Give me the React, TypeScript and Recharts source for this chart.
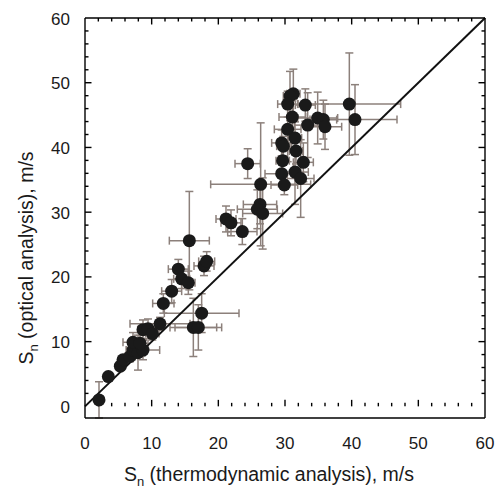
import { ScatterChart, Scatter, XAxis, YAxis, ErrorBar, ReferenceLine, Label } from "recharts";

// S_n from thermodynamic analysis (x) vs optical analysis (y), m/s
const thermo = [
  2.1, 3.5, 5.3, 5.7, 6.75, 7.2, 7.95, 8.7, 7.2, 8.25, 8.7, 9.45, 10.1, 11.25,
  11.75, 13.0, 14.0, 14.5, 15.5, 15.65, 17.85, 18.25, 16.25, 17.0, 17.5,
  21.15, 21.9, 23.6, 24.4, 26.35, 26.25, 25.85, 26.65,
  31.25, 30.75, 30.4, 33.05, 39.65, 31.1, 34.9, 35.75, 40.5, 33.4, 36.0, 30.4,
  31.5, 29.5, 29.75, 31.65, 29.65, 32.75, 31.5, 29.5, 32.35, 29.9,
];
const optical = [
  1.0, 4.6, 6.2, 7.2, 7.7, 8.7, 8.3, 8.7, 9.9, 9.75, 11.85, 12.0, 11.25, 12.75,
  15.9, 17.8, 21.2, 19.7, 19.1, 25.6, 21.7, 22.4, 12.2, 12.2, 14.4,
  28.95, 28.35, 27.0, 37.5, 34.3, 31.2, 30.45, 29.8,
  48.3, 47.95, 46.7, 46.55, 46.7, 44.7, 44.55, 44.3, 44.3, 43.45, 43.2, 42.8,
  41.45, 40.7, 40.2, 39.45, 37.95, 37.7, 36.2, 35.95, 35.2, 34.2,
];
const thermoErr = [
  0.4, 0, 0, 0.6, 0.8, 1.0, 1.0, 2.5, 1.5, 1.2, 0.8, 1.2, 1.0, 4.5,
  1.6, 1.5, 1.5, 1.2, 1.0, 3.0, 1.5, 1.2, 3.5, 3.5, 5.6,
  1.5, 1.5, 2.2, 1.9, 7.5, 2.5, 3.0, 3.0,
  1.0, 1.0, 1.5, 1.5, 7.7, 2.0, 3.0, 2.0, 6.3, 2.0, 2.5, 2.0,
  1.0, 1.5, 1.0, 1.0, 1.0, 1.5, 2.0, 2.5, 2.0, 2.0,
];
const opticalErr = [
  2.8, 0, 0, 0.6, 0.8, 1.2, 2.7, 1.5, 1.5, 1.2, 1.5, 1.5, 1.0, 1.0,
  1.5, 1.8, 1.5, 1.5, 1.8, 7.6, 1.5, 1.5, 4.5, 3.5, 3.0,
  2.0, 2.0, 2.0, 2.3, 9.5, 3.0, 3.0, 5.5,
  3.8, 3.8, 2.0, 2.5, 7.9, 2.5, 4.0, 3.0, 5.4, 5.0, 3.5, 5.0,
  2.5, 2.0, 1.5, 2.0, 2.0, 3.0, 5.0, 2.0, 6.0, 1.5,
];
const axisTicks = [0, 2, 4, 6, 8, 10, 12, 14, 16, 18, 20, 22, 24, 26, 28, 30, 32, 34, 36, 38, 40, 42, 44, 46, 48, 50, 52, 54, 56, 58, 60];

const data = thermo.map((x, i) => ({
  x,
  y: optical[i],
  xerr: thermoErr[i],
  yerr: opticalErr[i],
}));

const FONT = "'Liberation Sans', Arial, sans-serif";
const BAR = "#8c807b";
const AXIS = { stroke: "#000", strokeWidth: 1.4 };

const isMajor = (v: number) => v % 10 === 0;

// inward frame ticks on all four sides, placed through the axis scales
const innerTicks = axisTicks.filter((v) => v > 0 && v < 60);
const frameTicks = innerTicks.flatMap((v) => [
  { x: v, y: 0, side: "b", v },
  { x: v, y: 60, side: "t", v },
  { x: 0, y: v, side: "l", v },
  { x: 60, y: v, side: "r", v },
]);

function FrameTick({ cx, cy, payload }: any) {
  const len = isMajor(payload.v) ? 6.5 : 3.5;
  const d =
    payload.side === "b" ? `M${cx},${cy}v${-len}` :
    payload.side === "t" ? `M${cx},${cy}v${len}` :
    payload.side === "l" ? `M${cx},${cy}h${len}` :
    `M${cx},${cy}h${-len}`;
  return <path d={d} stroke="#000" strokeWidth={1.4} fill="none" />;
}

function BottomTick({ x, y, payload }: any) {
  if (!isMajor(payload.value)) return <g />;
  return (
    <text x={x} y={y + 31} textAnchor="middle" fontSize={17} fontFamily={FONT} fill="#1a1a1a">
      {payload.value}
    </text>
  );
}

function LeftTick({ x, y, payload }: any) {
  if (!isMajor(payload.value)) return <g />;
  return (
    <text x={x - 15} y={y + 6.5} textAnchor="end" fontSize={17} fontFamily={FONT} fill="#1a1a1a">
      {payload.value}
    </text>
  );
}

const Dot = (p: any) => <circle cx={p.cx} cy={p.cy} r={6.5} fill="#1a1a1a" />;

export default function App() {
  return (
    <div style={{ position: "absolute", left: 0, top: 0, background: "#fff" }}>
      <ScatterChart width={496} height={491} margin={{ top: 17, right: 10, bottom: 0, left: 0 }}>
        <XAxis
          xAxisId="b"
          dataKey="x"
          type="number"
          domain={[0, 60]}
          ticks={axisTicks}
          interval={0}
          height={73}
          tickSize={0}
          tickMargin={0}
          tickLine={false}
          tick={BottomTick}
          axisLine={AXIS}
        >
          <Label
            content={() => (
              <text x={269} y={481} textAnchor="middle" fontSize={19.5} fontFamily={FONT} fill="#1a1a1a">
                S<tspan fontSize={13} dy={5}>n</tspan>
                <tspan dy={-5}> (thermodynamic analysis), m/s</tspan>
              </text>
            )}
          />
        </XAxis>
        <XAxis
          xAxisId="t"
          dataKey="x"
          orientation="top"
          type="number"
          domain={[0, 60]}
          height={1}
          tick={false}
          tickLine={false}
          axisLine={AXIS}
        />
        <YAxis
          yAxisId="l"
          dataKey="y"
          type="number"
          domain={[0, 60]}
          ticks={axisTicks}
          interval={0}
          width={85}
          tickSize={0}
          tickMargin={0}
          tickLine={false}
          tick={LeftTick}
          axisLine={AXIS}
        >
          <Label
            content={() => (
              <text
                x={33}
                y={258}
                transform="rotate(-90 33 258)"
                textAnchor="middle"
                fontSize={19.5}
                fontFamily={FONT}
                fill="#1a1a1a"
              >
                S<tspan fontSize={13} dy={5}>n</tspan>
                <tspan dy={-5}> (optical analysis), m/s</tspan>
              </text>
            )}
          />
        </YAxis>
        <YAxis
          yAxisId="r"
          dataKey="y"
          orientation="right"
          type="number"
          domain={[0, 60]}
          width={1}
          tick={false}
          tickLine={false}
          axisLine={AXIS}
        />
        <Scatter data={frameTicks} xAxisId="b" yAxisId="l" shape={FrameTick} isAnimationActive={false} />
        <Scatter data={data} xAxisId="b" yAxisId="l" shape={Dot} isAnimationActive={false}>
          <ErrorBar dataKey="yerr" direction="y" width={4} stroke={BAR} strokeWidth={1.5} />
          <ErrorBar dataKey="xerr" direction="x" width={4} stroke={BAR} strokeWidth={1.5} />
        </Scatter>
        <Scatter data={[]} xAxisId="t" yAxisId="r" isAnimationActive={false} />
        <ReferenceLine
          xAxisId="b"
          yAxisId="l"
          segment={[{ x: 0, y: 0 }, { x: 60, y: 60 }]}
          stroke="#111"
          strokeWidth={2}
        />
      </ScatterChart>
    </div>
  );
}
